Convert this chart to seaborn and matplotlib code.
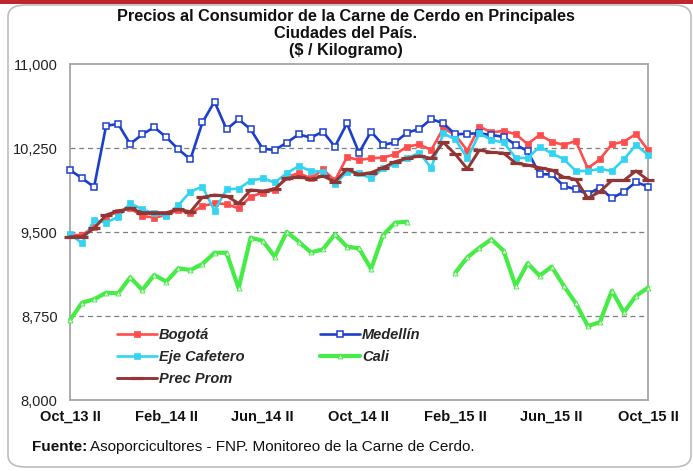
import numpy as np
import pandas as pd
import matplotlib
matplotlib.use("Agg")
import matplotlib.pyplot as plt
import seaborn as sns
from matplotlib.lines import Line2D
from matplotlib.patches import FancyBboxPatch, Rectangle

# ---------------- data ----------------
tick_labels = ["Oct_13 II", "Feb_14 II", "Jun_14 II", "Oct_14 II",
               "Feb_15 II", "Jun_15 II", "Oct_15 II"]

bogota = [9473, 9473, 9547, 9637, 9681, 9711, 9643, 9628, 9652, 9696,
          9667, 9732, 9756, 9750, 9711, 9815, 9851, 9875, 9994, 10024,
          9979, 10059, 9960, 10168, 10143, 10158, 10164, 10194, 10262, 10283,
          10232, 10426, 10366, 10226, 10440, 10390, 10402, 10374, 10286, 10366,
          10307, 10277, 10313, 10068, 10149, 10283, 10307, 10375, 10232]

medellin = [10054, 9979, 9902, 10449, 10464, 10286, 10372, 10435, 10345, 10238,
            10149, 10479, 10664, 10417, 10506, 10417, 10244, 10232, 10298, 10372,
            10342, 10396, 10262, 10470, 10208, 10396, 10277, 10301, 10387, 10420,
            10509, 10470, 10372, 10378, 10381, 10366, 10350, 10280, 10223, 10015,
            10015, 9911, 9881, 9839, 9896, 9801, 9860, 9946, 9905]

eje_cafetero = [9482, 9399, 9607, 9583, 9637, 9756, 9702, 9667, 9643, 9741,
                9860, 9905, 9690, 9881, 9887, 9958, 9979, 9943, 10024, 10089,
                10045, 10039, 9926, 10039, 10024, 9979, 10068, 10107, 10158, 10208,
                10074, 10381, 10327, 10158, 10381, 10321, 10300, 10165, 10158, 10262,
                10202, 10152, 10045, 10045, 10063, 10045, 10149, 10277, 10188]

cali = [8714, 8869, 8899, 8958, 8952, 9095, 8982, 9116, 9057, 9176,
        9161, 9214, 9315, 9315, 8997, 9449, 9422, 9280, 9500, 9414,
        9318, 9345, 9479, 9369, 9354, 9170, 9473, 9583, 9592, np.nan,
        np.nan, np.nan, 9137, 9274, 9360, 9435, 9333, 9021, 9220, 9110,
        9190, 9021, 8863, 8661, 8694, 8976, 8783, 8929, 9003]

prec_prom = [9458, 9458, 9532, 9652, 9688, 9711, 9673, 9673, 9673, 9702,
             9681, 9810, 9830, 9821, 9756, 9875, 9866, 9884, 9979, 9994,
             9970, 10000, 9949, 10061, 10015, 10030, 10074, 10128, 10158, 10179,
             10158, 10301, 10194, 10063, 10232, 10211, 10205, 10115, 10098, 10074,
             10054, 9989, 9970, 9801, 9860, 9961, 9961, 10045, 9964]

y_ticks = [8000, 8750, 9500, 10250, 11000]

# ---------------- style ----------------
sns.set_style("white")
plt.rcParams["font.family"] = ["Liberation Sans", "DejaVu Sans"]

W, H = 693, 471
fig = plt.figure(figsize=(W / 100, H / 100), dpi=100)
fig.patch.set_facecolor("white")

# outer rounded border and red band
fig.patches.append(FancyBboxPatch((8 / W, 4 / H), (683 / W), (462 / H),
                                  boxstyle="round,pad=0,rounding_size=0.025",
                                  transform=fig.transFigure, facecolor="none",
                                  edgecolor="#BDBDBD", linewidth=1.2, zorder=-1))
fig.patches.append(Rectangle((0, 1 - 3.5 / H), 1, 3.5 / H, transform=fig.transFigure,
                             facecolor="#C0272D", edgecolor="none", zorder=-1))

ax = fig.add_axes([70 / W, (H - 400) / H, 578 / W, 336 / H])
ax.set_facecolor("white")
ax.set_zorder(2)

n = len(bogota)
idx = np.arange(n)

styles = {
    "Bogotá": dict(color="#FF4D4D", linewidth=1.9, marker="s", markersize=5,
                   markerfacecolor="#FF4D4D", markeredgecolor="#FF4D4D", markeredgewidth=0.5),
    "Medellín": dict(color="#1C3FCB", linewidth=1.9, marker="s", markersize=5,
                     markerfacecolor="white", markeredgecolor="#1C3FCB", markeredgewidth=1.1),
    "Eje Cafetero": dict(color="#33D4F2", linewidth=1.9, marker="s", markersize=5,
                         markerfacecolor="#33D4F2", markeredgecolor="#33D4F2", markeredgewidth=0.5),
    "Cali": dict(color="#45EC45", linewidth=3.0, marker="^", markersize=3.5,
                 markerfacecolor="white", markeredgecolor="#45EC45", markeredgewidth=0.7),
    "Prec Prom": dict(color="#923535", linewidth=2.1, marker="_", markersize=8,
                      markerfacecolor="#923535", markeredgecolor="#923535", markeredgewidth=2.3),
}

series = [("Bogotá", bogota), ("Medellín", medellin), ("Eje Cafetero", eje_cafetero),
          ("Cali", cali), ("Prec Prom", prec_prom)]

for z, (name, vals) in enumerate(series):
    df = pd.DataFrame({"idx": idx, "val": vals})
    df["seg"] = np.cumsum(df["val"].isna())
    df = df.dropna()
    sns.lineplot(data=df, x="idx", y="val", units="seg", estimator=None, ax=ax,
                 legend=False, zorder=3 + z, clip_on=False, **styles[name])

# axes
ax.set_xlim(0, n - 1)
ax.set_ylim(y_ticks[0], y_ticks[-1])
ax.set_yticks(y_ticks)
ax.set_yticklabels([f"{v:,}" for v in y_ticks])
ax.set_xticks(np.arange(0, n, 2), minor=False)
ax.set_xticklabels([tick_labels[i // 8] if i % 8 == 0 else "" for i in range(0, n, 2)])
ax.set_xlabel("")
ax.set_ylabel("")
for gv in y_ticks[1:-1]:
    ax.axhline(gv, color="#7F7F7F", linewidth=0.9, linestyle=(0, (4, 3)), zorder=1)
for s in ax.spines.values():
    s.set_color("#A6A6A6")
    s.set_linewidth(1.3)
ax.tick_params(axis="y", length=0, pad=9, labelsize=10.5, labelcolor="#222222")
ax.tick_params(axis="x", length=4, width=1, color="#A6A6A6", direction="out",
               pad=3, labelsize=10.5, labelcolor="#111111")
for t in ax.get_xticklabels():
    t.set_fontweight("bold")

# legend
handles = []
labels = []
for name in ["Bogotá", "Eje Cafetero", "Prec Prom", "Medellín", "Cali"]:
    st = styles[name]
    handles.append(Line2D([0], [0], **st))
    labels.append(name)
leg = ax.legend(handles, labels, ncol=2, loc="upper left",
                bbox_to_anchor=(0.082, 0.213), frameon=False,
                prop={"weight": "bold", "style": "italic", "size": 10.5},
                handlelength=2.7, handletextpad=0.15, columnspacing=5.2,
                labelspacing=0.55, borderpad=0, borderaxespad=0, markerscale=1.0)

# title
title_lines = ["Precios al Consumidor de la Carne de Cerdo en Principales",
               "Ciudades del País.", "($ / Kilogramo)"]
for k, (line, yy) in enumerate(zip(title_lines, [17, 34, 51])):
    fig.text(346 / W, 1 - yy / H, line, ha="center", va="center",
             fontsize=11.7, fontweight="bold", color="#111111")

# footer
ft = fig.text(32 / W, 1 - 447 / H, "Fuente:", ha="left", va="center",
              fontsize=11, fontweight="bold", color="#111111")
fig.canvas.draw()
bb = ft.get_window_extent(renderer=fig.canvas.get_renderer())
fig.text((bb.x1 + 3) / W, 1 - 447 / H,
         "Asoporcicultores - FNP. Monitoreo de la Carne de Cerdo.",
         ha="left", va="center", fontsize=11, color="#111111")

fig.savefig("out.png", dpi=100)
